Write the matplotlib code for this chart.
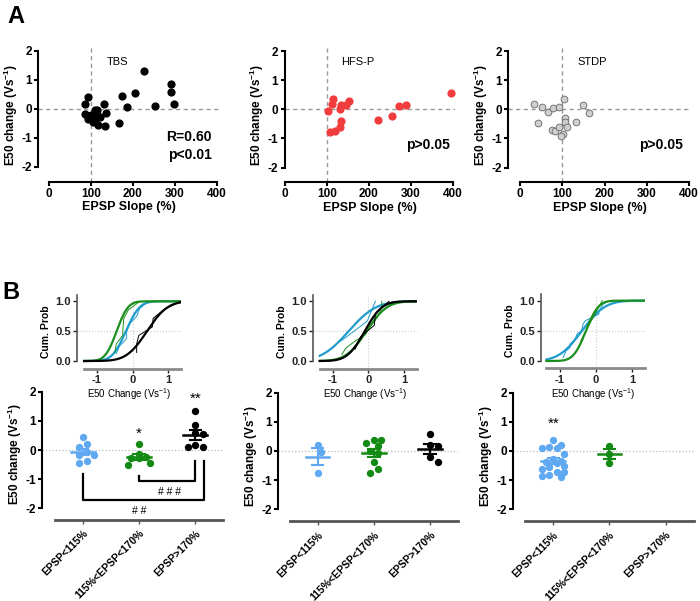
import numpy as np
import matplotlib
matplotlib.use("Agg")
import matplotlib.pyplot as plt
from math import erf, sqrt

plt.rcParams['font.family'] = ['Liberation Sans', 'DejaVu Sans']
plt.rcParams['mathtext.fontset'] = 'custom'
plt.rcParams['mathtext.rm'] = 'Liberation Sans'
plt.rcParams['mathtext.bf'] = 'Liberation Sans:bold'
plt.rcParams['axes.unicode_minus'] = False

# ---- panel A data (EPSP slope %, E50 change) ----
tbs_x = [226, 290, 290, 205, 173, 186, 253, 298, 167, 93, 87, 130, 87, 110,
         114, 101, 135, 94, 110, 121, 106, 117, 134, 114]
tbs_y = [1.32, 0.85, 0.58, 0.56, 0.46, 0.07, 0.10, 0.16, -0.47, 0.41, 0.17, 0.17,
         -0.17, -0.03, -0.03, -0.21, -0.15, -0.34, -0.34, -0.26, -0.46, -0.55, -0.59, -0.22]
hfs_x = [396, 103, 115, 113, 130, 134, 146, 153, 107, 119, 131, 134, 221, 255, 273, 288]
hfs_y = [0.57, -0.06, 0.36, 0.17, 0.03, 0.15, 0.15, 0.29, -0.78, -0.76, -0.62, -0.39,
         -0.38, -0.23, 0.11, 0.15]
stdp_x = [34, 53, 65, 79, 93, 105, 148, 164, 43, 106, 106, 110, 132, 75, 83, 93, 101, 96]
stdp_y = [0.19, 0.08, -0.09, 0.04, 0.08, 0.37, 0.15, -0.14, -0.46, -0.29, -0.43, -0.59,
          -0.43, -0.71, -0.75, -0.60, -0.83, -0.91]

# ---- panel B data (E50 change per EPSP group) ----
groups = ['EPSP<115%', '115%<EPSP<170%', 'EPSP>170%']
tbs_groups = [
    [0.43, 0.19, 0.11, -0.17, -0.08, -0.37, -0.46, -0.17],
    [0.20, -0.12, -0.25, -0.27, -0.28, -0.50, -0.46],
    [1.34, 0.86, 0.57, 0.55, 0.17, 0.11, 0.11],
]
hfs_groups = [
    [0.20, -0.03, -0.77],
    [0.38, 0.38, 0.29, 0.18, 0.01, -0.08, -0.37, -0.74, -0.62],
    [0.58, 0.20, 0.17, -0.37, -0.22],
]
stdp_groups = [
    [0.38, 0.21, 0.15, 0.09, 0.09, -0.10, -0.29, -0.35, -0.37, -0.40, -0.52, -0.71,
     -0.71, -0.82, -0.90, -0.86, -0.55, -0.62],
    [0.18, -0.12, -0.41],
    [],
]

# cumulative gaussian fits (mean, sd)
tbs_fit = [(-0.19, 0.30), (-0.45, 0.25), (0.40, 0.45)]
hfs_fit = [(-0.55, 0.60), (-0.05, 0.45), (-0.10, 0.38)]
stdp_fit = [(-0.38, 0.50), (-0.27, 0.27), None]

dot_colors = ['#5fa8f2', '#138a13', 'black']
cdf_colors = ['#1f9ccc', '#1b8f1b', 'black']

fig = plt.figure(figsize=(7, 6.01), dpi=100)

YLAB = r'E50 change (Vs$^{\mathbf{-1}}$)'


def style_scatter_axes(ax, xlim):
    ax.set_xlim(*xlim)
    ax.set_ylim(-2.5, 2.1)
    ax.patch.set_visible(False)
    for s in ['top', 'right']:
        ax.spines[s].set_visible(False)
    ax.spines['left'].set_bounds(-2, 2)
    ax.spines['bottom'].set_bounds(0, 400)
    for s in ['left', 'bottom']:
        ax.spines[s].set_linewidth(1.5)
    ax.set_xticks([0, 100, 200, 300, 400])
    ax.set_yticks([-2, -1, 0, 1, 2])
    ax.tick_params(width=1.5, length=3, labelsize=8.5, pad=1.5)
    for lab in ax.get_xticklabels() + ax.get_yticklabels():
        lab.set_fontweight('bold')
    ax.axhline(0, color='#999999', ls='--', lw=1, dashes=(3, 2.5), zorder=0)
    ax.axvline(100, color='#999999', ls='--', lw=1, dashes=(3, 2.5), zorder=0)
    ax.set_xlabel('EPSP Slope (%)', fontsize=9, fontweight='bold', labelpad=1)
    ax.set_ylabel(YLAB, fontsize=8.5, fontweight='bold', labelpad=1)


axA1 = fig.add_axes([0.0543, 0.698, 0.2586, 0.222])
style_scatter_axes(axA1, (-26, 405))
axA1.scatter(tbs_x, tbs_y, s=24, color='black', zorder=3)
axA1.text(163, 1.63, 'TBS', fontsize=8, ha='center', va='center')
axA1.text(388, -0.97, 'R=0.60', fontsize=10, fontweight='bold', ha='right', va='center')
axA1.text(388, -1.6, 'p<0.01', fontsize=10, fontweight='bold', ha='right', va='center')

axA2 = fig.add_axes([0.4066, 0.697, 0.243, 0.2226])
style_scatter_axes(axA2, (-1, 405))
axA2.scatter(hfs_x, hfs_y, s=24, color='#f03c3c', zorder=3)
axA2.text(174, 1.63, 'HFS-P', fontsize=8, ha='center', va='center')
axA2.text(394, -1.23, 'p>0.05', fontsize=10, fontweight='bold', ha='right', va='center')

axA3 = fig.add_axes([0.726, 0.697, 0.2616, 0.2226])
style_scatter_axes(axA3, (-28, 405))
axA3.scatter(stdp_x, stdp_y, s=24, facecolor='#cfcfcf', edgecolor='#666666', lw=0.6, zorder=3)
axA3.text(171, 1.63, 'STDP', fontsize=8, ha='center', va='center')
axA3.text(386, -1.23, 'p>0.05', fontsize=10, fontweight='bold', ha='right', va='center')


def norm_cdf(x, mu, sd):
    return np.array([0.5 * (1 + erf((v - mu) / (sd * sqrt(2)))) for v in x])


def draw_inset(rect, xlim, ybot, data, fits):
    ax = fig.add_axes(rect, zorder=5)
    ax.patch.set_visible(False)
    ax.set_xlim(*xlim)
    ax.set_ylim(ybot, 1.11)
    for s in ['top', 'right']:
        ax.spines[s].set_visible(False)
    ax.spines['bottom'].set_bounds(-1.36, 1.36)
    ax.spines['bottom'].set_color('#8a8a8a')
    ax.spines['bottom'].set_linewidth(2)
    ax.spines['left'].set_color('#555555')
    ax.spines['left'].set_linewidth(1.2)
    ax.spines['left'].set_bounds(0, 1.11)
    ax.set_xticks([-1, 0, 1])
    ax.set_yticks([0, 0.5, 1.0])
    ax.set_yticklabels(['0.0', '0.5', '1.0'])
    ax.tick_params(length=3, width=1, labelsize=8, pad=1.5, colors='#222222')
    for lab in ax.get_xticklabels() + ax.get_yticklabels():
        lab.set_fontweight('bold')
    ax.axhline(0.5, color='#cccccc', ls=':', lw=0.8, zorder=0)
    ax.axvline(0, color='#cccccc', ls=':', lw=0.8, zorder=0)
    xs = np.linspace(-1.36, 1.36, 200)
    for vals, fit, c in zip(data, fits, cdf_colors):
        if fit is None or len(vals) == 0:
            continue
        v = np.sort(vals)
        ax.plot(v, np.arange(1, len(v) + 1) / len(v), color=c, lw=0.7)
        ax.plot(xs, norm_cdf(xs, *fit), color=c, lw=1.6)
    ax.set_ylabel('Cum. Prob', fontsize=7.5, fontweight='bold', labelpad=3)
    ax.set_xlabel(r'E50 Change (Vs$^{-1}$)', fontsize=7, labelpad=1)
    return ax


draw_inset([0.1104, 0.386, 0.1487, 0.1236], (-1.55, 1.36), -0.134, tbs_groups, tbs_fit)
draw_inset([0.4476, 0.386, 0.1484, 0.1236], (-1.54, 1.37), -0.134, hfs_groups, hfs_fit)
draw_inset([0.7729, 0.3872, 0.148, 0.1236], (-1.51, 1.35), -0.121, stdp_groups, stdp_fit)


def swarm_offsets(vals, xpx=56.2, ypx=29.2, d=7.5, max_off=12.0):
    # simple beeswarm: put each dot at the smallest free horizontal offset
    vals = np.asarray(vals, dtype=float)
    placed = []
    offs = np.zeros(len(vals))
    step = d * 0.5
    cands = [0.0]
    k = 1
    while k * step <= max_off:
        cands += [k * step, -k * step]
        k += 1
    for i in np.argsort(-vals):
        y = vals[i] * ypx
        best, best_gap = None, -1
        for cx in cands:
            gap = min([np.hypot(cx - px, y - py) for px, py in placed] + [99])
            if gap >= d:
                best = cx
                break
            if gap > best_gap:
                best, best_gap = cx, gap
        placed.append((best, y))
        offs[i] = best / xpx
    return offs


def draw_dots(rect, xlim, ylim, data):
    ax = fig.add_axes(rect)
    ax.patch.set_visible(False)
    ax.set_xlim(*xlim)
    ax.set_ylim(*ylim)
    for s in ['top', 'right']:
        ax.spines[s].set_visible(False)
    ax.spines['left'].set_bounds(-2, 2)
    ax.spines['left'].set_linewidth(1.5)
    ax.spines['bottom'].set_bounds(-0.5, 2.5)
    ax.spines['bottom'].set_linewidth(2)
    ax.spines['bottom'].set_color('#555555')
    ax.axhline(0, color='#bbbbbb', ls=':', lw=0.9, zorder=0)
    for i, (vals, c) in enumerate(zip(data, dot_colors)):
        if len(vals) == 0:
            continue
        vals = np.asarray(vals)
        ax.scatter(i + swarm_offsets(vals), vals, s=28, color=c, zorder=3, lw=0)
        m = vals.mean()
        sem = vals.std(ddof=1) / np.sqrt(len(vals))
        ax.plot([i - 0.21, i + 0.21], [m, m], color=c, lw=1.8, zorder=4)
        ax.plot([i, i], [m - sem, m + sem], color=c, lw=1.5, zorder=4)
        ax.plot([i - 0.1, i + 0.1], [m + sem, m + sem], color=c, lw=1.5, zorder=4)
        ax.plot([i - 0.1, i + 0.1], [m - sem, m - sem], color=c, lw=1.5, zorder=4)
    ax.set_xticks([0, 1, 2])
    ax.set_xticklabels(groups, rotation=45, ha='right', rotation_mode='anchor',
                       fontsize=7.5, fontweight='bold')
    ax.set_yticks([-2, -1, 0, 1, 2])
    ax.tick_params(axis='y', width=1.5, length=3, labelsize=8.5, pad=1.5)
    ax.tick_params(axis='x', width=1, length=3, colors='#555555', labelcolor='black', pad=3)
    for lab in ax.get_yticklabels():
        lab.set_fontweight('bold')
    ax.set_ylabel(YLAB, fontsize=8.5, fontweight='bold', labelpad=1)
    return ax


axB1 = draw_dots([0.0604, 0.1346, 0.2586, 0.2186], (-0.72, 2.5), (-2.4, 2.1), tbs_groups)
axB1.text(1, 0.55, '*', fontsize=11, ha='center', va='center')
axB1.text(2, 1.74, '**', fontsize=11, ha='center', va='center')
axB1.plot([1, 1, 2, 2], [-0.9, -1.06, -1.06, -0.37], color='black', lw=1.6)
axB1.plot([0, 0, 2.15, 2.15], [-0.83, -1.71, -1.71, -0.37], color='black', lw=1.6)
axB1.text(1.55, -1.43, '# # #', fontsize=7.5, ha='center', va='center')
axB1.text(1.0, -2.08, '# #', fontsize=7.5, ha='center', va='center')

draw_dots([0.3976, 0.1325, 0.257, 0.2187], (-0.70, 2.5), (-2.42, 2.1), hfs_groups)

axB3 = draw_dots([0.7333, 0.1325, 0.2579, 0.2187], (-0.71, 2.5), (-2.42, 2.1), stdp_groups)
axB3.text(0, 0.92, '**', fontsize=11, ha='center', va='center')

fig.text(0.01, 0.992, 'A', fontsize=17, fontweight='bold', va='top', ha='left')
fig.text(0.003, 0.533, 'B', fontsize=17, fontweight='bold', va='top', ha='left')

fig.savefig('out.png', dpi=100)
